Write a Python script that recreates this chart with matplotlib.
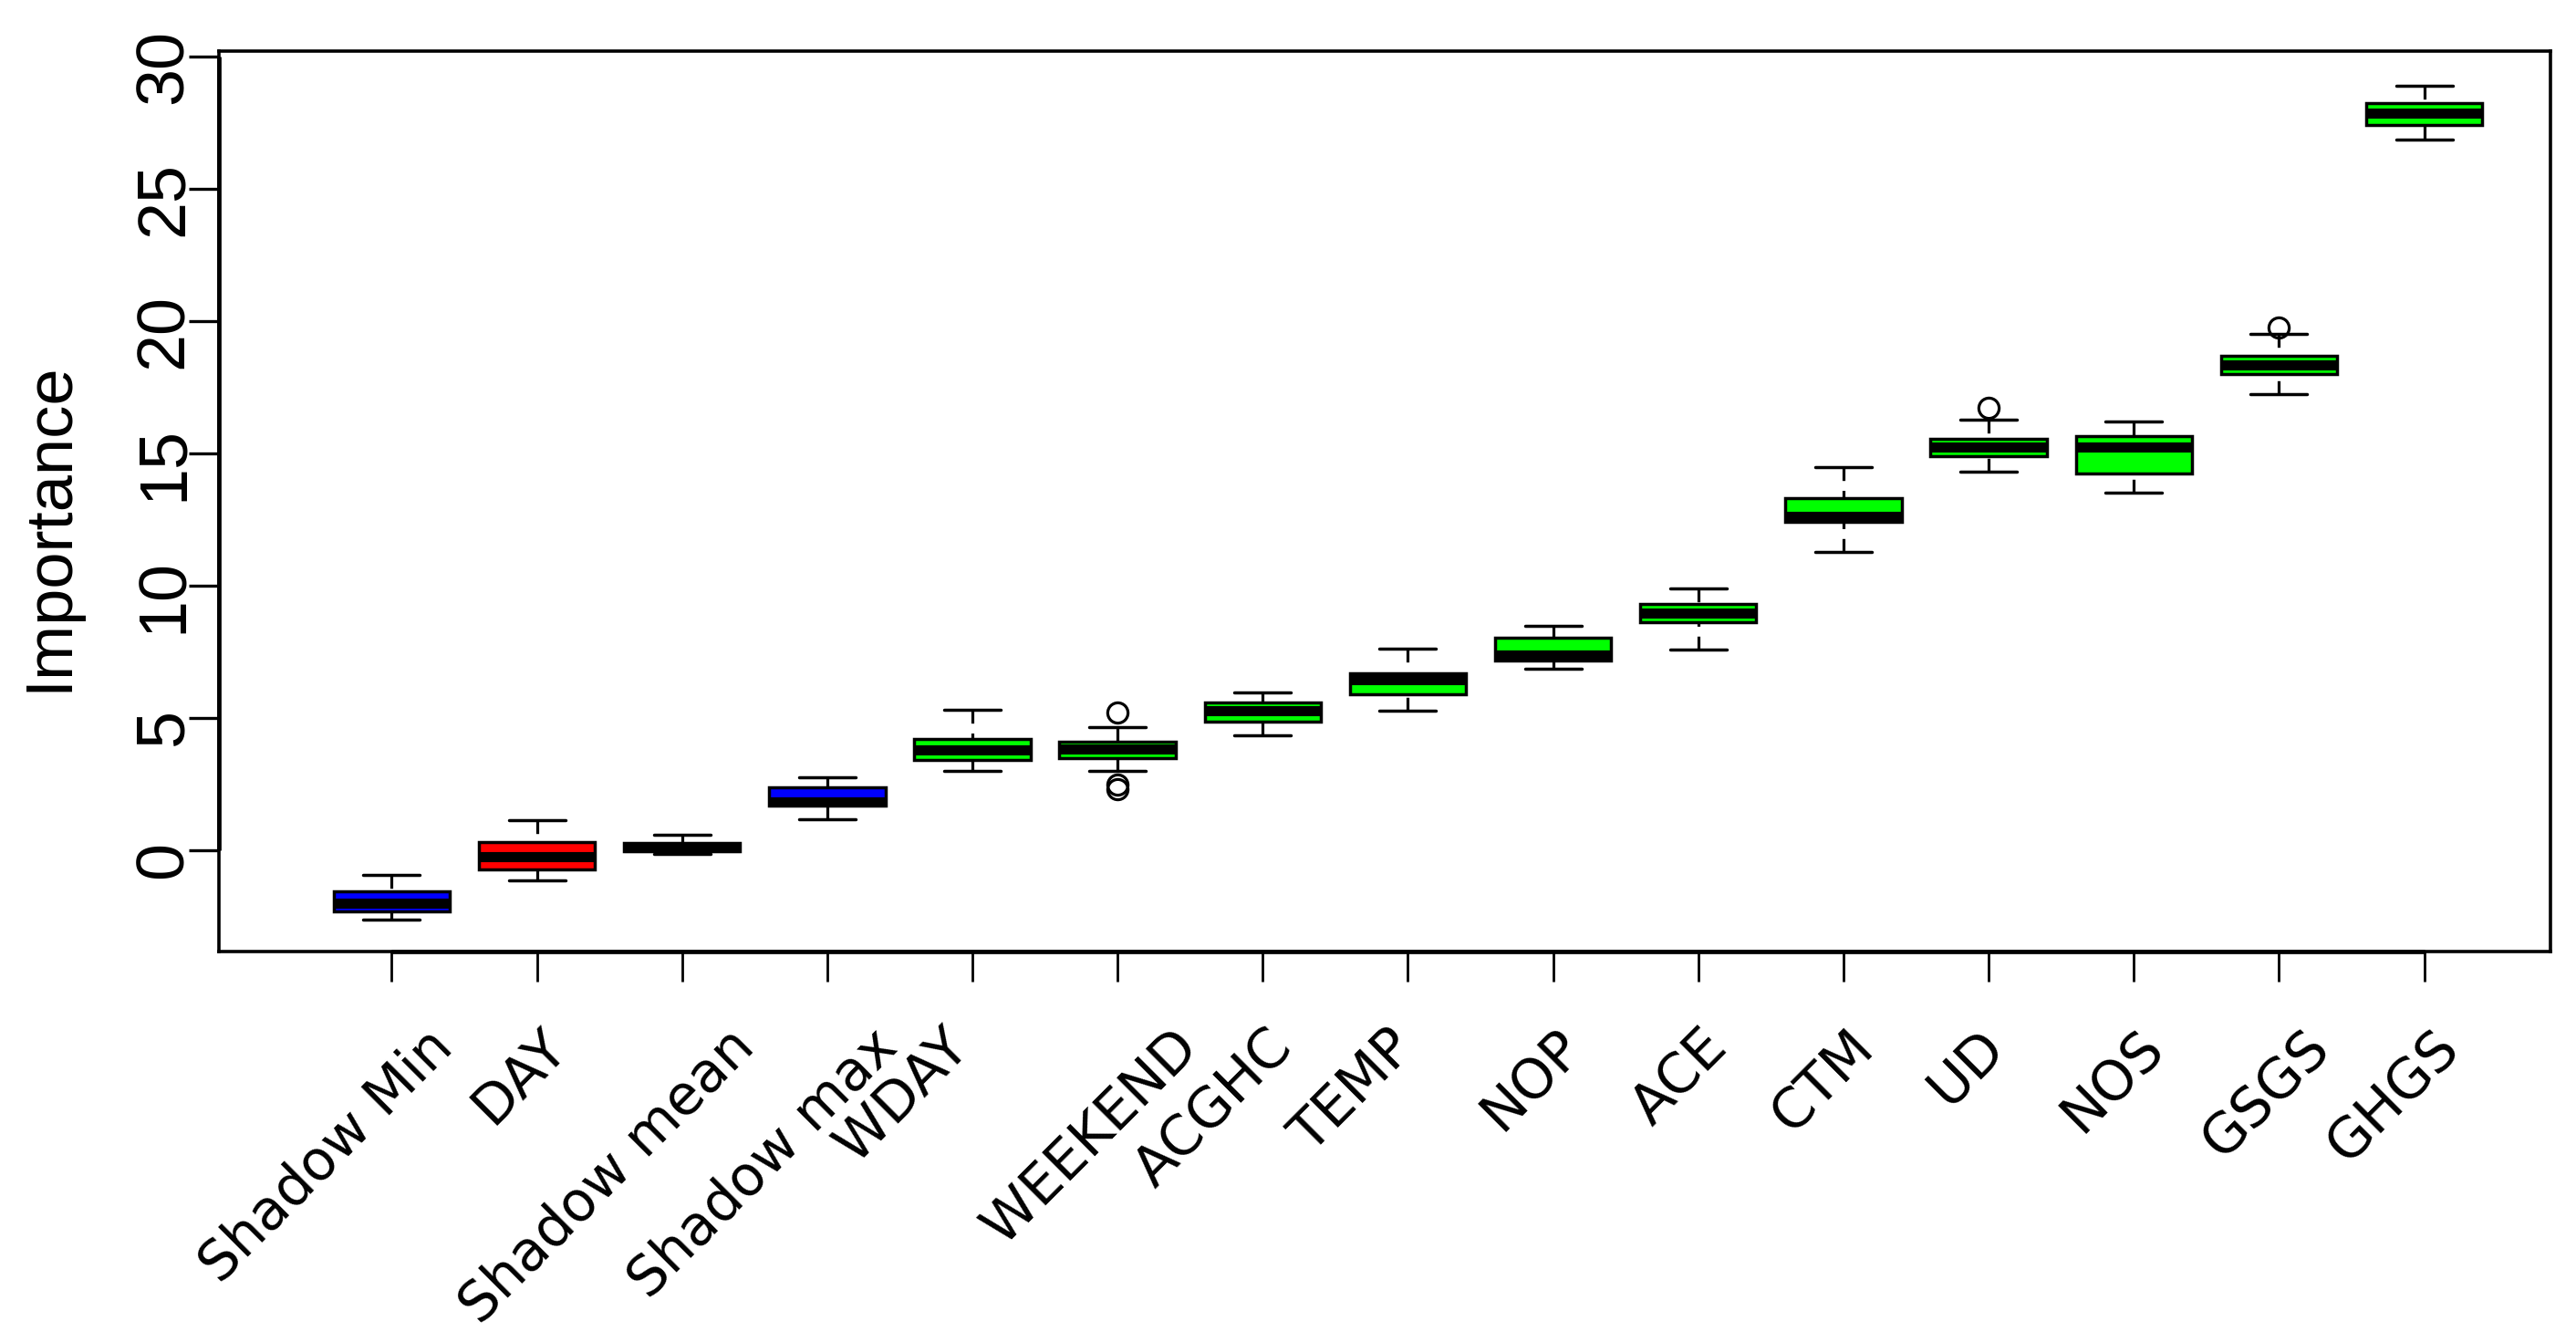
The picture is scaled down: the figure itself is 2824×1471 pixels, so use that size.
import matplotlib
matplotlib.use('Agg')
import matplotlib.pyplot as plt
import matplotlib.transforms as mtransforms
import numpy as np

# ---------------- data ----------------
features = ['Shadow Min', 'DAY', 'Shadow mean', 'Shadow max', 'WDAY', 'WEEKEND',
            'ACGHC', 'TEMP', 'NOP', 'ACE', 'CTM', 'UD', 'NOS', 'GSGS', 'GHGS']
decision = ['shadow', 'rejected', 'shadow', 'shadow', 'confirmed', 'confirmed',
            'confirmed', 'confirmed', 'confirmed', 'confirmed', 'confirmed',
            'confirmed', 'confirmed', 'confirmed', 'confirmed']
whislo = [-2.62, -1.15, -0.15, 1.16, 3.00, 3.00, 4.34, 5.27, 6.86, 7.56, 11.26, 14.31, 13.49, 17.21, 26.85]
q1     = [-2.31, -0.73, -0.05, 1.69, 3.40, 3.47, 4.85, 5.88, 7.16, 8.61, 12.40, 14.88, 14.24, 18.00, 27.40]
med    = [-2.00, -0.24, 0.09, 1.82, 3.79, 3.83, 5.27, 6.42, 7.35, 8.95, 12.62, 15.23, 15.23, 18.32, 27.86]
q3     = [-1.56, 0.30, 0.25, 2.35, 4.19, 4.10, 5.56, 6.67, 8.01, 9.30, 13.31, 15.55, 15.63, 18.66, 28.22]
whishi = [-0.95, 1.12, 0.57, 2.75, 5.29, 4.63, 5.96, 7.61, 8.48, 9.87, 14.48, 16.26, 16.20, 19.50, 28.89]
fliers = [[], [], [], [], [], [5.20, 2.48, 2.30], [], [], [], [], [], [16.70], [], [19.76], []]
yticks = [0, 5, 10, 15, 20, 25, 30]
ylabel = 'Importance'

# ---------------- style ----------------
colors = {'shadow': '#0000FF', 'rejected': '#FF0000', 'confirmed': '#00FF00'}
# per-label horizontal nudges (pixels) of the rotated axis labels
label_dx_px = [37, 3, 49, 47, -33, 58, 2, -23, 1, 2, 3, -12, 2, 25, 8]

W, H, DPI = 2824, 1471, 100
fig = plt.figure(figsize=(W / DPI, H / DPI), dpi=DPI)
L, R, T, B = 240, 2796, 56, 1043
ax = fig.add_axes([L / W, 1 - B / H, (R - L) / W, (B - T) / H])

pos = np.arange(1, len(features) + 1)
stats = [dict(label=f, whislo=a, q1=b, med=c, q3=d, whishi=e, fliers=fl)
         for f, a, b, c, d, e, fl in zip(features, whislo, q1, med, q3, whishi, fliers)]

art = ax.bxp(stats, positions=pos, widths=0.8, capwidths=0.39, patch_artist=True,
             showfliers=True,
             boxprops=dict(edgecolor='black', linewidth=2.5),
             medianprops=dict(color='black', linewidth=8, solid_capstyle='butt'),
             whiskerprops=dict(color='black', linewidth=2.3, linestyle=(0, (4.6, 3.4))),
             capprops=dict(color='black', linewidth=2.5, solid_capstyle='round'),
             flierprops=dict(marker='o', markerfacecolor='none', markeredgecolor='black',
                             markersize=16, markeredgewidth=2.3, linestyle='none'))
for patch, d in zip(art['boxes'], decision):
    patch.set_facecolor(colors[d])
# dash pattern starts at the whisker end (cap side), as in the original
for wl in art['whiskers']:
    wl.set_ydata(np.asarray(wl.get_ydata())[::-1])

ax.set_xlim(-0.19, 15.87)
ax.set_ylim(-3.84, 30.19)

for s in ax.spines.values():
    s.set_linewidth(2.6)

# y axis
ax.set_yticks(yticks)
ax.set_yticklabels([str(v) for v in yticks], fontfamily='Liberation Sans', fontsize=53)
ax.tick_params(axis='y', length=23.8, width=2.4, labelrotation=90, pad=-5.8)
for t in ax.get_yticklabels():
    t.set_va('center')
    t.set_transform(t.get_transform() + mtransforms.ScaledTranslation(0, -0.11, fig.dpi_scale_trans))

ax.set_ylabel(ylabel, fontfamily='Liberation Sans', fontsize=52)
ax.yaxis.set_label_coords((88 - L) / (R - L), (B - 577) / (B - T))

# x axis
ax.set_xticks(pos)
ax.set_xticklabels([])
ax.tick_params(axis='x', length=24, width=2.0)

x0 = ax.get_xlim()[0]
y0 = ax.get_ylim()[0]
ax.plot([x0, x0], [yticks[0], yticks[-1]], color='black', lw=3.4, clip_on=False,
        solid_capstyle='butt', zorder=5)
ax.plot([pos[0], pos[-1]], [y0, y0], color='black', lw=3.4, clip_on=False,
        solid_capstyle='butt', zorder=5)

label_y = (B - 1118) / (B - T)
for p, name, dx in zip(pos, features, label_dx_px):
    tr = ax.get_xaxis_transform() + mtransforms.ScaledTranslation(dx / DPI, 0, fig.dpi_scale_trans)
    ax.text(p, label_y, name, transform=tr, rotation=45, ha='right', va='top',
            rotation_mode='anchor', fontfamily='DejaVu Sans', fontsize=43.5, clip_on=False)

fig.savefig('out.png', dpi=DPI)
